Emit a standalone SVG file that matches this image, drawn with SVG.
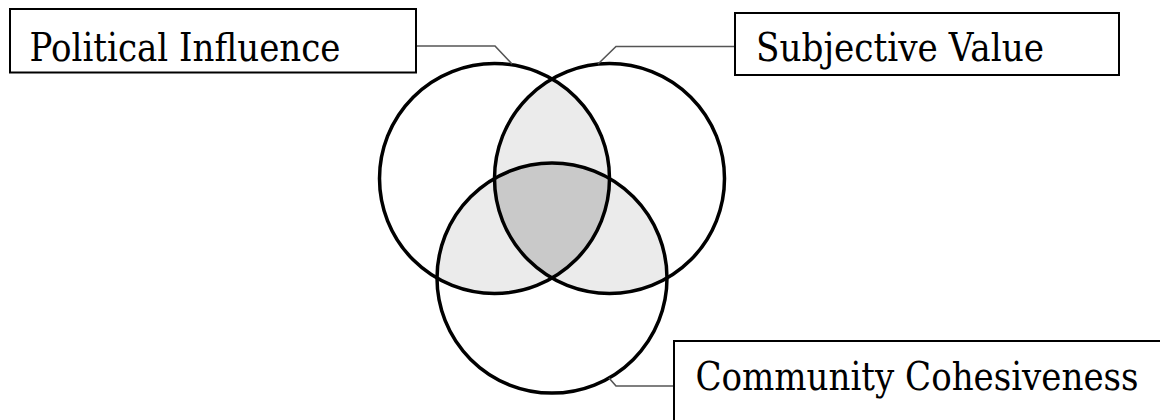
<svg xmlns="http://www.w3.org/2000/svg" width="1160" height="420" viewBox="0 0 1160 420">
<style>
.box{fill:#fff;stroke:#000;stroke-width:2}
.lbl{font-family:'DejaVu Serif',serif;font-size:40px;fill:#000}
.ring{fill:none;stroke:#000;stroke-width:3.5}
.lens{fill:#ebebeb;stroke:none}
.core{fill:#c9c9c9;stroke:none}
.conn{fill:none;stroke:#555;stroke-width:1.6}
</style>
<rect width="1160" height="420" fill="#fff"/>
<g id="venn">
<path class="lens" d="M552,78.9 A115,115 0 0 1 552,278.1 A115,115 0 0 1 552,78.9 Z"/>
<path class="lens" d="M437,278.1 A115,115 0 0 1 609.5,178.5 A115,115 0 0 1 437,278.1 Z"/>
<path class="lens" d="M494.5,178.5 A115,115 0 0 1 667,278.1 A115,115 0 0 1 494.5,178.5 Z"/>
<path class="core" d="M494.5,178.5 A115,115 0 0 1 609.5,178.5 A115,115 0 0 1 552,278.1 A115,115 0 0 1 494.5,178.5 Z"/>
<circle id="circle-political" class="ring" cx="494.5" cy="178.5" r="115"/>
<circle id="circle-subjective" class="ring" cx="609.5" cy="178.5" r="115"/>
<circle id="circle-community" class="ring" cx="552" cy="278.1" r="115"/>
</g>
<g id="connectors">
<polyline class="conn" points="416,46 495,46 512,64"/>
<polyline class="conn" points="735,46.5 616,46.5 598,64"/>
<polyline class="conn" points="609,378 616,386 674,386"/>
</g>
<g id="node-political">
<rect class="box" x="10" y="9" width="406" height="63.5"/>
<text class="lbl" x="29.5" y="61" textLength="311" lengthAdjust="spacingAndGlyphs">Political Influence</text>
</g>
<g id="node-subjective">
<rect class="box" x="735" y="13" width="384" height="62"/>
<text class="lbl" x="756" y="60.5" textLength="288" lengthAdjust="spacingAndGlyphs">Subjective Value</text>
</g>
<g id="node-community">
<rect class="box" x="674" y="341" width="500" height="100"/>
<text class="lbl" x="695.5" y="389.5" textLength="443" lengthAdjust="spacingAndGlyphs">Community Cohesiveness</text>
</g>
</svg>
